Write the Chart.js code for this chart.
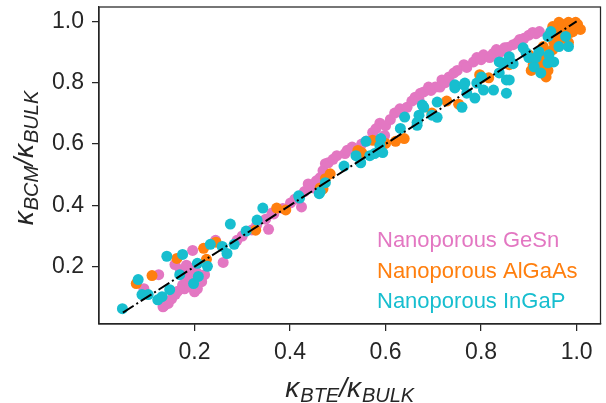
<!DOCTYPE html>
<html>
<head>
<meta charset="utf-8">
<script src="https://cdn.jsdelivr.net/npm/chart.js@4.4.0/dist/chart.umd.min.js"></script>
<style>
    html, body { margin: 0; padding: 0; background: #fff; }
    .m-chart { width: 606px; height: 403px; }
</style>
</head>
<body>
<div class="m-chart"><canvas id="myChart"></canvas></div>
<script>
// values: [kBTE/kBULK, kBCM/kBULK]
const geSn = [
    [0.094,0.128],[0.125,0.174],[0.134,0.069],[0.136,0.072],[0.145,0.080],[0.152,0.095],[0.159,0.207],
    [0.165,0.120],[0.170,0.190],[0.175,0.140],[0.178,0.170],[0.179,0.128],[0.183,0.205],[0.185,0.151],
    [0.188,0.185],[0.192,0.165],[0.196,0.194],[0.196,0.253],[0.200,0.118],[0.206,0.128],[0.215,0.151],
    [0.221,0.174],[0.244,0.286],[0.260,0.214],[0.289,0.286],[0.300,0.300],[0.320,0.320],[0.330,0.335],
    [0.349,0.355],[0.355,0.322],[0.362,0.375],[0.366,0.372],[0.385,0.390],[0.401,0.408],[0.410,0.420],
    [0.424,0.395],[0.430,0.445],[0.438,0.470],[0.449,0.457],[0.455,0.480],[0.463,0.490],[0.469,0.513],
    [0.474,0.536],[0.480,0.539],[0.490,0.550],[0.498,0.562],[0.515,0.569],[0.520,0.580],[0.530,0.590],
    [0.550,0.600],[0.560,0.610],[0.573,0.638],[0.580,0.650],[0.588,0.668],[0.598,0.628],[0.600,0.660],
    [0.610,0.680],[0.619,0.701],[0.630,0.715],[0.635,0.701],[0.645,0.720],[0.655,0.740],[0.662,0.753],
    [0.670,0.745],[0.673,0.766],[0.680,0.770],[0.690,0.786],[0.695,0.775],[0.704,0.786],[0.714,0.786],
    [0.718,0.809],[0.725,0.800],[0.733,0.819],[0.743,0.832],[0.750,0.840],[0.764,0.859],[0.770,0.850],
    [0.784,0.868],[0.791,0.882],[0.800,0.875],[0.805,0.891],[0.818,0.882],[0.825,0.895],[0.832,0.908],
    [0.840,0.900],[0.849,0.914],[0.855,0.915],[0.867,0.924],[0.875,0.930],[0.881,0.941],[0.890,0.945],
    [0.900,0.955],[0.908,0.964],[0.915,0.960],[0.922,0.967],[0.160,0.110],[0.190,0.135],[0.205,0.180]
];
const alGaAs = [
    [0.078,0.145],[0.111,0.171],[0.163,0.227],[0.219,0.260],[0.225,0.224],[0.245,0.280],[0.328,0.319],
    [0.372,0.391],[0.391,0.385],[0.463,0.457],[0.469,0.454],[0.474,0.487],[0.484,0.503],[0.542,0.579],
    [0.550,0.572],[0.573,0.612],[0.600,0.602],[0.621,0.609],[0.639,0.618],[0.697,0.701],[0.728,0.740],
    [0.753,0.730],[0.797,0.826],[0.801,0.816],[0.816,0.816],[0.859,0.859],[0.900,0.891],[0.905,0.840],
    [0.909,0.859],[0.918,0.875],[0.930,0.868],[0.930,0.852],[0.930,0.882],[0.930,0.918],[0.936,0.819],
    [0.940,0.840],[0.945,0.960],[0.950,0.908],[0.950,0.983],[0.952,0.934],[0.956,0.941],[0.960,0.975],
    [0.963,0.997],[0.967,0.945],[0.971,0.951],[0.971,0.990],[0.977,0.967],[0.983,0.931],[0.983,0.997],
    [0.988,0.964],[0.990,0.985],[0.992,0.967],[0.998,0.997],[1.002,0.990],[1.008,0.974]
];
const inGaP = [
    [0.049,0.063],[0.082,0.158],[0.090,0.109],[0.103,0.109],[0.123,0.092],[0.132,0.102],[0.142,0.234],
    [0.148,0.125],[0.169,0.174],[0.175,0.240],[0.198,0.145],[0.206,0.211],[0.208,0.168],[0.227,0.201],
    [0.233,0.273],[0.258,0.266],[0.268,0.243],[0.275,0.339],[0.283,0.273],[0.308,0.316],[0.331,0.352],
    [0.343,0.391],[0.418,0.431],[0.420,0.424],[0.461,0.438],[0.463,0.444],[0.474,0.474],[0.513,0.528],
    [0.538,0.562],[0.548,0.539],[0.559,0.609],[0.567,0.562],[0.577,0.569],[0.588,0.595],[0.590,0.618],
    [0.594,0.572],[0.631,0.651],[0.640,0.688],[0.666,0.661],[0.666,0.671],[0.670,0.694],[0.677,0.727],
    [0.680,0.720],[0.697,0.694],[0.708,0.687],[0.708,0.737],[0.745,0.783],[0.745,0.793],[0.760,0.720],
    [0.764,0.793],[0.766,0.799],[0.770,0.766],[0.787,0.750],[0.791,0.799],[0.801,0.819],[0.805,0.776],
    [0.826,0.776],[0.838,0.832],[0.838,0.868],[0.843,0.865],[0.853,0.809],[0.853,0.766],[0.859,0.809],
    [0.859,0.885],[0.863,0.865],[0.867,0.862],[0.888,0.914],[0.894,0.898],[0.900,0.882],[0.911,0.852],
    [0.915,0.882],[0.921,0.901],[0.925,0.832],[0.940,0.951],[0.940,0.865],[0.942,0.891],[0.946,0.967],
    [0.952,0.868],[0.963,0.918],[0.977,0.951],[0.983,0.918]
];
const parityLine = [[0.05,0.05],[1.0,1.0]];
const tickValues = [0.2, 0.4, 0.6, 0.8, 1.0];
const seriesNames = ['Nanoporous GeSn', 'Nanoporous AlGaAs', 'Nanoporous InGaP'];
const seriesColors = ['#e377c2', '#ff7f0e', '#17becf'];
const xLimits = [0.0, 1.05];
const yLimits = [0.013, 1.047];

const toPoints = arr => arr.map(p => ({x: p[0], y: p[1]}));

// kappa with subscript, drawn piece by piece
function drawKappaLabel(ctx, parts, cx, cy, rotate) {
    const mainFont = 'italic 28px "Liberation Sans"';
    const subFont = 'italic 20px "Liberation Sans"';
    let total = 0;
    parts.forEach(p => {
        ctx.font = mainFont; total += ctx.measureText(p[0]).width;
        if (p[1]) { ctx.font = subFont; total += ctx.measureText(p[1]).width + 1; }
    });
    ctx.save();
    ctx.translate(cx, cy);
    if (rotate) ctx.rotate(-Math.PI / 2);
    ctx.fillStyle = '#262626';
    ctx.textBaseline = 'alphabetic';
    ctx.textAlign = 'left';
    let x = -total / 2;
    parts.forEach(p => {
        ctx.font = mainFont; ctx.fillText(p[0], x, 0); x += ctx.measureText(p[0]).width;
        if (p[1]) {
            ctx.font = subFont; ctx.fillText(p[1], x + 1, 5); x += ctx.measureText(p[1]).width + 1;
        }
    });
    ctx.restore();
}

const frameAndText = {
    id: 'frameAndText',
    afterDraw(chart) {
        const ctx = chart.ctx;
        const a = chart.chartArea;
        ctx.save();
        ctx.strokeStyle = '#262626';
        ctx.lineWidth = 1.25;
        ctx.strokeRect(a.left, a.top, a.right - a.left, a.bottom - a.top);

        ctx.font = '22px "Liberation Sans"';
        ctx.textBaseline = 'alphabetic';
        seriesNames.forEach((n, i) => {
            ctx.fillStyle = seriesColors[i];
            ctx.fillText(n, 377, 247 + i * 30.7);
        });
        ctx.restore();

        drawKappaLabel(ctx, [['κ', 'BTE'], ['/', ''], ['κ', 'BULK']], (a.left + a.right) / 2, 397, false);
        drawKappaLabel(ctx, [['κ', 'BCM'], ['/', ''], ['κ', 'BULK']], 33, 158, true);
    }
};

// fixed axis size and no extra padding for overflowing tick labels
const fixX = s => { s.height = 79; s.paddingLeft = 0; s.paddingRight = 0; };
const fixY = s => { s.width = 99; s.paddingTop = 0; s.paddingBottom = 0; };

const axisStyle = (lim, fixSize) => ({
    type: 'linear',
    min: lim[0],
    max: lim[1],
    afterBuildTicks: s => { s.ticks = tickValues.map(v => ({value: v})); },
    afterFit: fixSize,
    grid: { display: true, drawOnChartArea: false, drawTicks: true, tickLength: 7, color: '#262626', lineWidth: 1.25 },
    border: { display: true, color: '#262626', width: 1.25 },
    ticks: {
        color: '#262626',
        font: { family: 'Liberation Sans', size: 23 },
        padding: 8,
        callback: v => v.toFixed(1)
    }
});

const ctx = document.getElementById('myChart').getContext('2d');
const myChart = new Chart(ctx, {
    type: 'scatter',
    data: {
        datasets: [
            {
                type: 'line', label: 'y = x', data: toPoints(parityLine), order: 0,
                borderColor: '#000', borderWidth: 2, borderDash: [12.8, 3.2, 2, 3.2],
                pointRadius: 0, fill: false
            },
            { label: seriesNames[2], data: toPoints(inGaP), order: 1, backgroundColor: seriesColors[2], borderWidth: 0, pointRadius: 5.5 },
            { label: seriesNames[1], data: toPoints(alGaAs), order: 2, backgroundColor: seriesColors[1], borderWidth: 0, pointRadius: 5.5 },
            { label: seriesNames[0], data: toPoints(geSn), order: 3, backgroundColor: seriesColors[0], borderWidth: 0, pointRadius: 5.5 }
        ]
    },
    options: {
        responsive: true,
        maintainAspectRatio: false,
        animation: false,
        layout: { padding: { top: 7, right: 1, left: 0, bottom: 0 } },
        plugins: { legend: { display: false }, tooltip: { enabled: false } },
        scales: {
            x: axisStyle(xLimits, fixX),
            y: axisStyle(yLimits, fixY)
        }
    },
    plugins: [frameAndText]
});
</script>
</body>
</html>
